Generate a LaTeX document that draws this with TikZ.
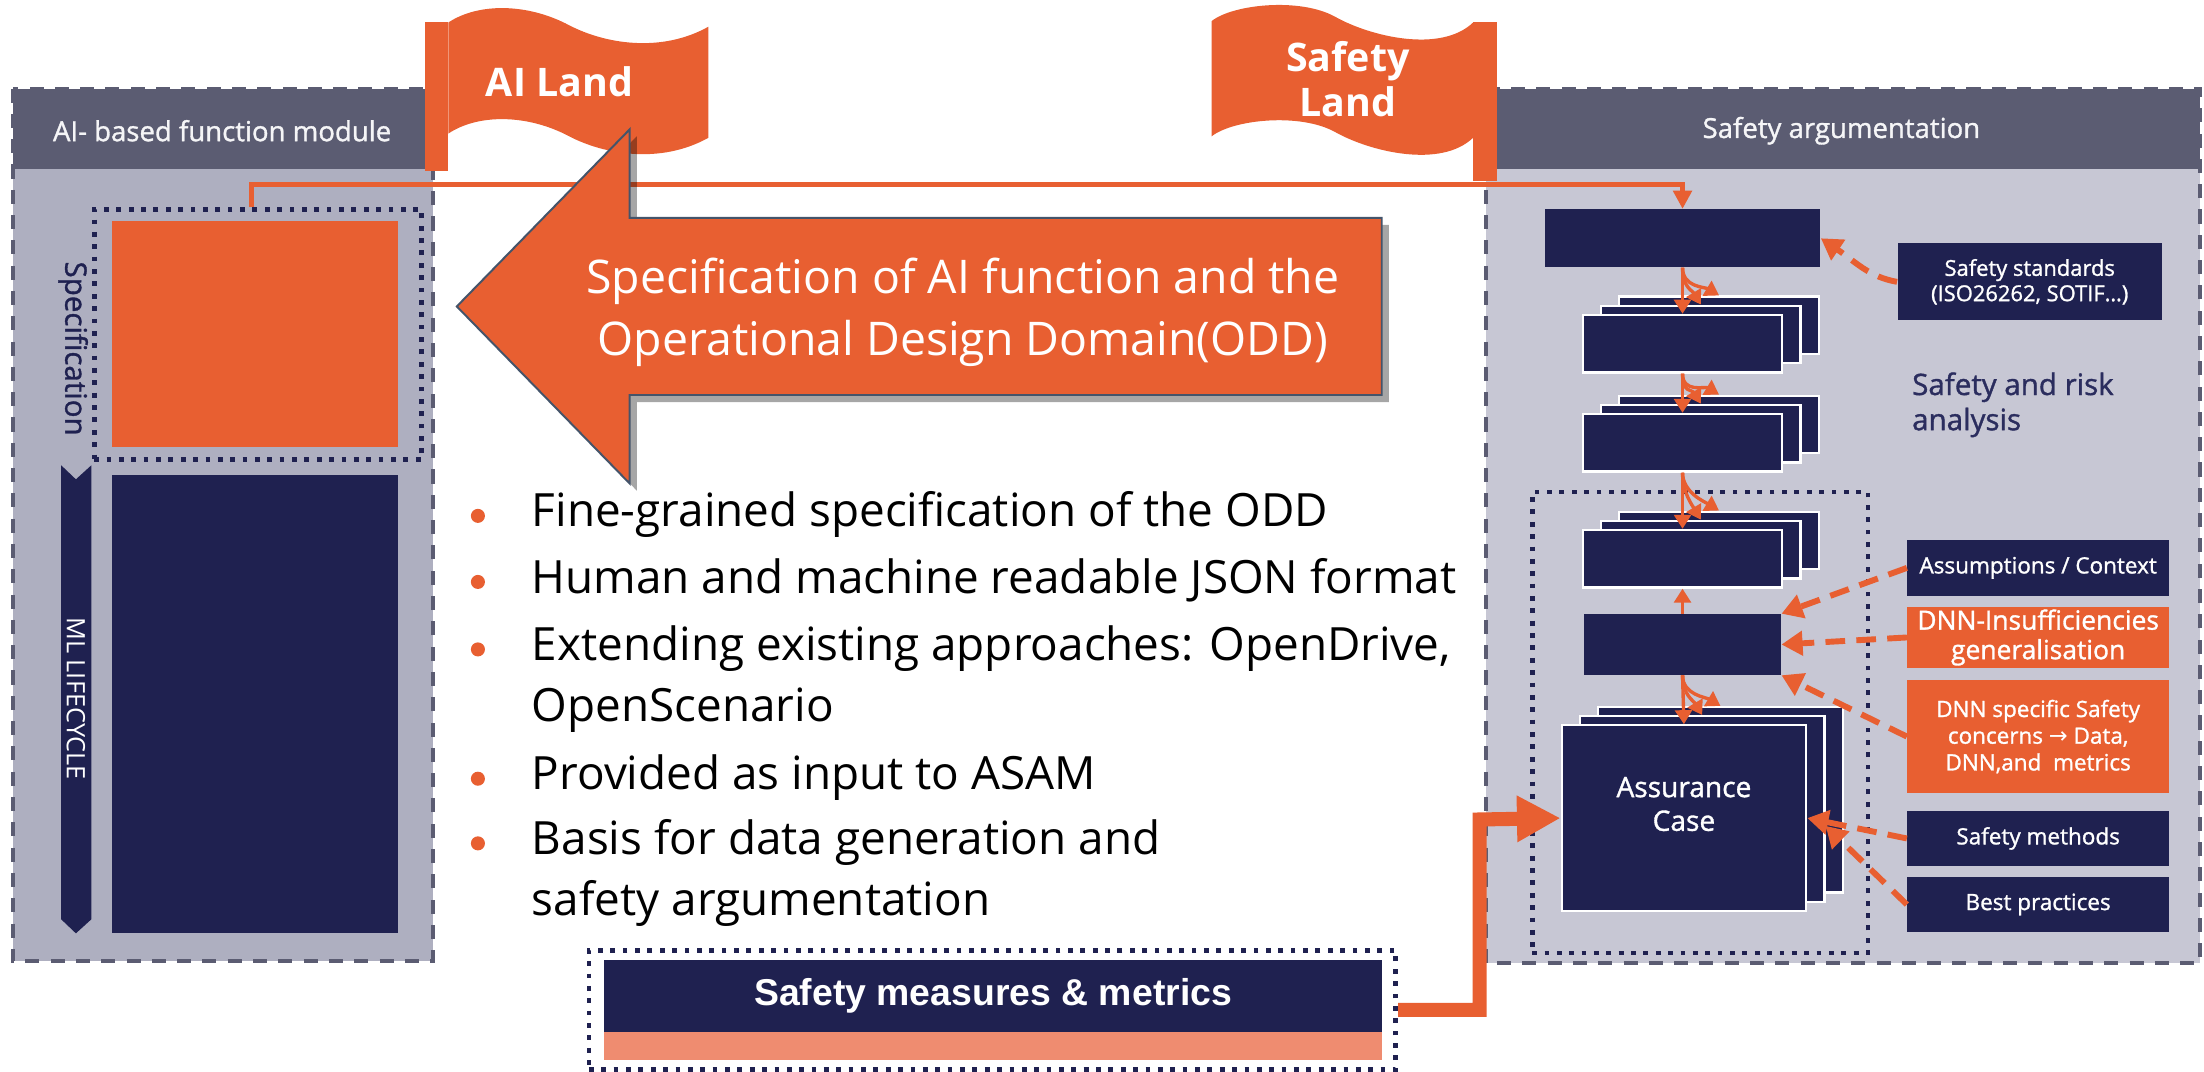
\documentclass[tikz,border=0pt]{standalone}
\usepackage{fontspec}
\setmainfont{Open Sans}
\newfontfamily\arialf{Liberation Sans}
\newfontfamily\dejavu{DejaVu Sans}
\newfontfamily\medfont[FakeBold=1.2]{Open Sans}
\usetikzlibrary{arrows.meta,shadows,calc}
\definecolor{aiorange}{HTML}{E85F31}
\definecolor{navy}{HTML}{1F2150}
\definecolor{hdrgray}{HTML}{5B5C72}
\definecolor{lbody}{HTML}{AEAFC0}
\definecolor{rbody}{HTML}{C7C7D4}
\definecolor{salmon}{HTML}{EF8C70}
\definecolor{slate}{HTML}{44546A}
\definecolor{risktext}{HTML}{2B2D5E}
\tikzset{
  modborder/.style={draw=hdrgray, line width=1.4pt, dash pattern=on 5pt off 4pt},
  dotbox/.style={draw=navy, line width=1.7pt, dash pattern=on 1.7pt off 2.7pt, inner sep=0pt},
  navybox/.style={fill=navy, inner sep=0pt, text=white},
  layer/.style={fill=navy, draw=white, line width=0.8pt, inner sep=0pt},
  sidebox/.style={fill=navy, text=white, inner sep=0pt, minimum width=93pt, align=center},
  orangeside/.style={sidebox, fill=aiorange},
  hdrtext/.style={text=white!94!hdrgray, font=\medfont\fontsize{9.8}{12}\selectfont},
  sarrow/.style={draw=aiorange, line width=1.2pt, -{Triangle[length=5pt,width=6pt]}},
  darrow/.style={draw=aiorange, line width=2.1pt, dash pattern=on 7pt off 4pt, -{Triangle[length=7.5pt,width=8.5pt]}},
  topconn/.style={draw=aiorange, line width=1.9pt, -{Triangle[length=6.5pt,width=6.5pt]}},
  bigconn/.style={draw=aiorange, line width=5pt, -{Triangle[length=15.5pt,width=15.5pt]}},
  bullettext/.style={font=\fontsize{16.3}{21.5}\selectfont, align=left, anchor=west, inner sep=0pt},
  bulletdot/.style={circle, fill=aiorange, inner sep=0pt, minimum size=5pt},
  flagtext/.style={text=white, font=\bfseries\fontsize{14}{16}\selectfont, align=center},
}
\newcommand{\mkstack}[5]{%
  \node[layer, minimum width=#4, minimum height=#5] (#1b) at (#2+26,#3-13) {};
  \node[layer, minimum width=#4, minimum height=#5] (#1m) at (#2+13,#3-6.5) {};
  \node[layer, minimum width=#4, minimum height=#5] (#1f) at (#2,#3) {};}
\begin{document}
\begin{tikzpicture}[x=0.5pt,y=-0.5pt]
\useasboundingbox (0,0) rectangle (1568,762);
\fill[white] (0,0) rectangle (1568,762);

% ---------- left module
\fill[lbody] (9,120) rectangle (308,684);
\fill[hdrgray] (9,63) rectangle (308,120);
\draw[modborder] (9,63) rectangle (308,684);
\node[hdrtext] (lhdr) at (158,93) {AI- based function module};

\node[dotbox, minimum width=116.5pt, minimum height=89pt] (specbox) at (183.5,238) {};
\node[fill=aiorange, inner sep=0pt, minimum width=101.5pt, minimum height=80.5pt] (specfill) at (181.5,237.5) {};
\node[rotate=-90, text=navy, font=\medfont\fontsize{10.5}{12}\selectfont] (spectext) at (52,248) {Specification};

\fill[navy] (43.5,331) -- (54,341) -- (65,331) -- (65,654) -- (54,664) -- (43.5,654) -- cycle;
\node[rotate=-90, text=white, font=\fontsize{9}{11}\selectfont] (mltext) at (54,497) {ML LIFECYCLE};
\node[navybox, minimum width=101.5pt, minimum height=163pt] (mlbox) at (181.5,501) {};

% ---------- right module
\fill[rbody] (1057,120) rectangle (1565,685);
\fill[hdrgray] (1057,63) rectangle (1565,120);
\draw[modborder] (1057,63) rectangle (1565,685);
\node[hdrtext] (rhdr) at (1310,93) {Safety argumentation};

% ---------- flags
\fill[aiorange] (302,16) rectangle (319,122);
\fill[aiorange] (319,16) .. controls (340,2) and (375,2) .. (405,18) .. controls (430,31) and (470,38) .. (504,19)
  -- (504,98) .. controls (470,117) and (430,110) .. (405,97) .. controls (375,81) and (340,81) .. (319,95) -- cycle;
\node[flagtext] (ailand) at (398,58) {AI Land};

\fill[aiorange] (1048,16) rectangle (1065,129);
\fill[aiorange] (862,15) .. controls (877,3) and (925,-2) .. (950,12) .. controls (975,26) and (1025,38) .. (1048,16)
  -- (1048,98) .. controls (1025,120) and (975,108) .. (950,94) .. controls (925,80) and (877,85) .. (862,97) -- cycle;
\node[flagtext] (safetyland) at (959,56) {Safety\\Land};

% ---------- right side boxes
\node[navybox, minimum width=98pt, minimum height=20.5pt] (topbox) at (1197,169.5) {};
\node[dotbox, minimum width=119.5pt, minimum height=164pt] (rdot) at (1209.5,514) {};
\mkstack{sa}{1197}{244.5}{71pt}{20.5pt}
\mkstack{sb}{1197}{315}{71pt}{20.5pt}
\mkstack{sc}{1197}{397.5}{71pt}{20.5pt}
\node[navybox, minimum width=70pt, minimum height=21.5pt] (midbox) at (1197,458.5) {};
\mkstack{a}{1198}{582}{87pt}{66pt}
\node[text=white, align=center, font=\medfont\fontsize{10}{12}\selectfont] (actext) at (1198,572) {Assurance\\Case};

\node[sidebox, minimum width=94pt, minimum height=27.5pt, font=\medfont\fontsize{7.8}{9}\selectfont] (sstd) at (1444,200.5) {Safety standards\\(ISO26262, SOTIF…)};
\node[text=risktext, align=left, anchor=west, inner sep=0pt, font=\medfont\fontsize{10.5}{12.5}\selectfont] (risk) at (1360,288) {Safety and risk\\analysis};
\node[sidebox, minimum height=20pt, font=\medfont\fontsize{8}{9.5}\selectfont] (assump) at (1450,404) {Assumptions / Context};
\node[orangeside, minimum height=21.5pt, font=\medfont\fontsize{9.4}{10.5}\selectfont] (dnn1) at (1450,453.5) {DNN-Insufficiencies\\generalisation};
\node[orangeside, minimum height=40pt, font=\medfont\fontsize{8}{9.5}\selectfont] (dnn2) at (1450,524) {DNN specific Safety\\concerns {\dejavu →} Data,\\DNN,and\ \ metrics};
\node[sidebox, minimum height=19.5pt, font=\medfont\fontsize{8}{9.5}\selectfont] (smeth) at (1450,596.5) {Safety methods};
\node[sidebox, minimum height=19.5pt, font=\medfont\fontsize{8}{9.5}\selectfont] (bestp) at (1450,643.5) {Best practices};

% ---------- top connector (under the big arrow)
\draw[topconn] ([xshift=-2.25pt]specbox.north) -- ++(0,-16) -| (topbox.north);

% ---------- big arrow
\path[fill=aiorange, draw=slate, line width=0.7pt,
  drop shadow={shadow xshift=2.5pt, shadow yshift=-2.5pt, opacity=0.35, fill=black}]
  (325,218) -- (448,92) -- (448,155) -- (983,155) -- (983,281) -- (448,281) -- (448,344) -- cycle;
\node[text=white, align=center, font=\fontsize{16.5}{22}\selectfont] (arrowtext) at (685,222)
  {Specification of AI function and the\\Operational Design Domain(ODD)};

% ---------- bullets
\node[bullettext] (b1) at (378,366) {Fine-grained specification of the ODD};
\node[bullettext] (b2) at (378,413) {Human and machine readable JSON format};
\node[bullettext] (b3) at (378,483) {Extending existing approaches: OpenDrive,\\OpenScenario};
\node[bullettext] (b4) at (378,553) {Provided as input to ASAM};
\node[bullettext] (b5) at (378,621) {Basis for data generation and\\safety argumentation};
\node[bulletdot] (d1) at (340,367) {};
\node[bulletdot] (d2) at (340,414) {};
\node[bulletdot] (d3) at (340,462) {};
\node[bulletdot] (d4) at (340,554) {};
\node[bulletdot] (d5) at (340,600) {};

% ---------- safety measures
\node[dotbox, minimum width=287pt, minimum height=42.5pt] (smdot) at (706,718.5) {};
\node[fill=salmon, inner sep=0pt, minimum width=276.5pt, minimum height=10pt] (smsalmon) at (706.5,744) {};
\node[navybox, minimum width=276.5pt, minimum height=25.5pt, font=\arialf\bfseries\fontsize{13.3}{15}\selectfont] (smbox) at (706.5,708.5) {Safety measures \& metrics};

\coordinate (bend) at (1052.6,583);
\draw[bigconn] (smdot.east) -| (bend) -- (af.west);

% ---------- stack arrows
\draw[sarrow] (topbox.south) -- (saf.north);
\draw[sarrow] (topbox.south) .. controls +(0,14) and +(-6,-10) .. (sam.north);
\draw[sarrow] (topbox.south) .. controls +(0,14) and +(-10,-6) .. (sab.north);
\draw[sarrow] (saf.south) -- (sbf.north);
\draw[sarrow] (saf.south) .. controls +(0,14) and +(-6,-10) .. (sbm.north);
\draw[sarrow] (saf.south) .. controls +(0,14) and +(-10,-6) .. (sbb.north);
\draw[sarrow] (sbf.south) -- (scf.north);
\draw[sarrow] (sbf.south) .. controls +(0,14) and +(-6,-10) .. (scm.north);
\draw[sarrow] (sbf.south) .. controls +(0,14) and +(-10,-6) .. (scb.north);
\draw[sarrow] (midbox.north) -- (scf.south);
\draw[sarrow] (midbox.south) -- (af.north);
\draw[sarrow] (midbox.south) .. controls +(0,14) and +(-6,-10) .. (am.north);
\draw[sarrow] (midbox.south) .. controls +(0,14) and +(-10,-6) .. (ab.north);

% ---------- dashed arrows
\draw[darrow] (sstd.west) .. controls +(-20,-3.5) and +(25,17) .. (topbox.east);
\draw[darrow] (assump.west) -- (midbox.north east);
\draw[darrow] (dnn1.west) -- (midbox.east);
\draw[darrow] (dnn2.west) -- (midbox.south east);
\draw[darrow] (smeth.west) -- (af.east);
\draw[darrow] (bestp.west) -- ([yshift=-6pt]am.east);
\end{tikzpicture}
\end{document}
